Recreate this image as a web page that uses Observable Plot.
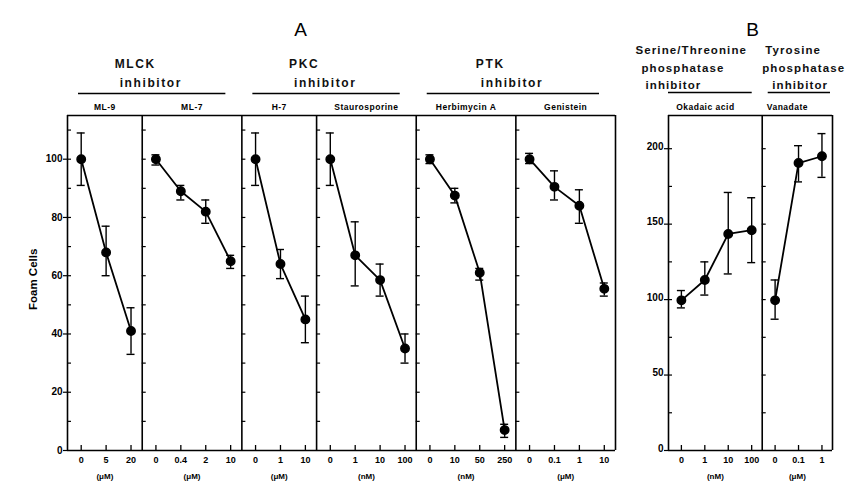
<!DOCTYPE html>
<html><head><meta charset="utf-8">
<script src="https://cdn.jsdelivr.net/npm/d3@7"></script>
<script src="https://cdn.jsdelivr.net/npm/@observablehq/plot@0.6"></script>
<style>
body{margin:0;background:#fff;}
#wrap{position:relative;width:850px;height:485px;overflow:hidden;}
#wrap svg{position:absolute;top:0;overflow:visible;background:transparent;}
</style></head><body><div id="wrap"></div>
<script>
// ---------- Part A data ----------
const panelsA = ["ML-9", "ML-7", "H-7", "Staurosporine", "Herbimycin A", "Genistein"];
const dosesA = [["0","5","20"], ["0","0.4","2","10"], ["0","1","10"], ["0","1","10","100"], ["0","10","50","250"], ["0","0.1","1","10"]];
const unitsA = ["(μM)", "(μM)", "(μM)", "(nM)", "(nM)", "(μM)"];
const meanA = [[100, 68, 41], [100, 89, 82, 65], [100, 64, 45], [100, 67, 58.5, 35], [100, 87.5, 61, 7], [100, 90.5, 84, 55.5]];
const lowA  = [[91, 60, 33], [98, 86, 78, 62.5], [91, 59, 37], [91, 56.5, 53, 30], [98.5, 85, 58.5, 4.5], [98.5, 86, 78, 53]];
const highA = [[109, 77, 49], [101.5, 91, 86, 67], [109, 69, 53], [109, 78.5, 64, 40], [101.5, 90, 62.5, 9], [102, 96, 89.5, 57.5]];
const groupsA = ["MLCK", "PKC", "PTK"];
const groupPanelsA = [[0, 1], [2, 3], [4, 5]];
const yTicksA = [0, 20, 40, 60, 80, 100];
const yMinorA = [10, 20, 30, 40, 50, 60, 70, 80, 90, 100, 110];
const yMaxA = 115;

// ---------- Part B data ----------
const panelsB = ["Okadaic acid", "Vanadate"];
const dosesB = [["0","1","10","100"], ["0","0.1","1"]];
const unitsB = ["(nM)", "(μM)"];
const meanB = [[99.5, 113, 143.5, 146], [99.5, 190.5, 195]];
const lowB  = [[94.5, 103, 117, 124.5], [87, 178, 181]];
const highB = [[106, 125, 171, 167.5], [113, 202, 210]];
const headersB = [["Serine/Threonine", "phosphatase", "inhibitor"], ["Tyrosine", "phosphatase", "inhibitor"]];
const yTicksB = [0, 50, 100, 150, 200];
const yMinorB = [25, 50, 75, 100, 125, 150, 175, 200];
const yMaxB = 222;

const FONT = "'Liberation Sans', Arial, sans-serif";
const HEAD_FILL = "#111111";
const SUB_FILL = "#010101";

function layout(panels, doses, units, mean, low, high) {
  const rows = [], info = [];
  let start = 0;
  panels.forEach((p, i) => {
    const n = doses[i].length;
    info.push({panel: p, unit: units[i], start, end: start + n, center: start + n / 2});
    doses[i].forEach((d, j) => {
      rows.push({panel: p, dose: d, x: start + 0.55 + j, mean: mean[i][j], lo: low[i][j], hi: high[i][j]});
    });
    start += n;
  });
  return {rows, info, total: start};
}

function commonMarks(L, kx, ky, yMax, yTicks, yMinor, opts) {
  const bounds = [0, ...L.info.map(d => d.end)];
  const minor = L.info.flatMap(p => yMinor.map(v => ({y: v, x1: p.start, x2: p.start + 4 / kx})));
  const cap = 4 / kx;
  return [
    Plot.ruleY([0, yMax], {stroke: "black", strokeWidth: 1.6}),
    Plot.ruleX(bounds, {stroke: "black", strokeWidth: 1.6}),
    Plot.ruleY(minor, {y: "y", x1: "x1", x2: "x2", stroke: "black", strokeWidth: 1.2}),
    Plot.ruleY(yTicks, {y: d => d, x1: 0, x2: -4 / kx, stroke: "black", strokeWidth: 1.2}),
    Plot.text(yTicks, {x: 0, y: d => d, text: d => String(d), textAnchor: "end", dx: -5, dy: opts.labDy,
      fontSize: 10, fontWeight: "bold", fontFamily: FONT}),
    Plot.ruleX(L.rows, {x: "x", y1: 0, y2: 5 / ky, stroke: "black", strokeWidth: 1.3}),
    Plot.text(L.rows, {x: "x", text: "dose", frameAnchor: "bottom", dy: 12, fontSize: 9, fontWeight: "bold", fontFamily: FONT}),
    Plot.text(L.info, {x: "center", text: "unit", frameAnchor: "bottom", dy: 28, fontSize: 8, fontWeight: "bold", fontFamily: FONT}),
    Plot.text(L.info, {x: "center", text: "panel", frameAnchor: "top", dy: -12, dx: opts.subDx,
      fontSize: 8.5, fontWeight: "bold", fontFamily: FONT, fill: SUB_FILL}),
    Plot.ruleX(L.rows, {x: "x", y1: "lo", y2: "hi", stroke: "black", strokeWidth: 1.4}),
    Plot.ruleY(L.rows, {y: "lo", x1: d => d.x - cap, x2: d => d.x + cap, stroke: "black", strokeWidth: 1.4}),
    Plot.ruleY(L.rows, {y: "hi", x1: d => d.x - cap, x2: d => d.x + cap, stroke: "black", strokeWidth: 1.4}),
    Plot.line(L.rows, {x: "x", y: "mean", z: "panel", stroke: "black", strokeWidth: 1.8}),
    Plot.dot(L.rows, {x: "x", y: "mean", r: 4.2, fill: "black", stroke: "black"})
  ];
}

function spacing(svg, headSpacing) {
  d3.select(svg).selectAll(`g[fill="${HEAD_FILL}"]`).attr("letter-spacing", headSpacing).attr("font-weight", "bold");
  d3.select(svg).selectAll(`g[fill="${SUB_FILL}"]`).attr("letter-spacing", "0.5px");
}

const headStyle = {fontSize: 12, fontWeight: "bold", fontFamily: FONT, fill: HEAD_FILL};
const headStyleB = {fontSize: 11.5, fontWeight: "bold", fontFamily: FONT, fill: HEAD_FILL};

// ---------- Plot A ----------
const LA = layout(panelsA, dosesA, unitsA, meanA, lowA, highA);
const wA = 630, mlA = 67, mrA = 15, mtA = 115, mbA = 35, hA = 485;
const kxA = (wA - mlA - mrA) / LA.total;
const kyA = (hA - mtA - mbA) / yMaxA;
const groupRows = groupsA.map((g, i) => {
  const a = LA.info[groupPanelsA[i][0]], b = LA.info[groupPanelsA[i][1]];
  return {name: g, start: a.start, end: b.end, center: (a.start + b.end) / 2};
});
const plotA = Plot.plot({
  width: wA, height: hA, marginLeft: mlA, marginRight: mrA, marginTop: mtA, marginBottom: mbA,
  x: {domain: [0, LA.total], axis: null},
  y: {domain: [0, yMaxA], axis: null},
  style: {background: "transparent", overflow: "visible"},
  marks: [
    ...commonMarks(LA, kxA, kyA, yMaxA, yTicksA, yMinorA, {subDx: 0, labDy: 0}),
    Plot.text(groupRows, {x: "center", text: "name", frameAnchor: "top", textAnchor: "start", dx: -40, dy: -56, ...headStyle}),
    Plot.text(groupRows, {x: "center", text: () => "inhibitor", frameAnchor: "top", textAnchor: "start", dx: -35, dy: -37, ...headStyle}),
    Plot.ruleY(groupRows, {y: () => yMaxA, x1: d => d.start + 11 / kxA, x2: d => d.end - 16 / kxA, dy: -22, stroke: "black", strokeWidth: 1.3}),
    Plot.text(["A"], {text: d => d, frameAnchor: "top", dx: -41, dy: -93, fontSize: 19, fontFamily: FONT}),
    Plot.text(["Foam Cells"], {text: d => d, frameAnchor: "left", rotate: -90, dx: -34, dy: 27, fontSize: 11.5, fontWeight: "bold", fontFamily: FONT})
  ]
});
plotA.style.left = "0px";
spacing(plotA, "1.6px");
document.getElementById("wrap").appendChild(plotA);

// ---------- Plot B ----------
const LB = layout(panelsB, dosesB, unitsB, meanB, lowB, highB);
const wB = 230, mlB = 48, mrB = 18, mtB = 115, mbB = 35, hB = 485;
const kxB = (wB - mlB - mrB) / LB.total;
const kyB = (hB - mtB - mbB) / yMaxB;
const okad = LB.info[0], vana = LB.info[1];
const plotB = Plot.plot({
  width: wB, height: hB, marginLeft: mlB, marginRight: mrB, marginTop: mtB, marginBottom: mbB,
  x: {domain: [0, LB.total], axis: null},
  y: {domain: [0, yMaxB], axis: null},
  style: {background: "transparent", overflow: "visible"},
  marks: [
    ...commonMarks(LB, kxB, kyB, yMaxB, yTicksB, yMinorB, {subDx: -10, labDy: -2}),
    // left header block (Serine/Threonine)
    Plot.text([headersB[0][0]], {x: () => okad.start, text: d => d, frameAnchor: "top", textAnchor: "start", dx: -33, dy: -70, ...headStyleB}),
    Plot.text([headersB[0][1]], {x: () => okad.start, text: d => d, frameAnchor: "top", textAnchor: "start", dx: -27, dy: -52, ...headStyleB}),
    Plot.text([headersB[0][2]], {x: () => okad.start, text: d => d, frameAnchor: "top", textAnchor: "start", dx: -23, dy: -35, ...headStyleB}),
    // right header block (Tyrosine)
    Plot.text([headersB[1][0]], {x: () => vana.start, text: d => d, frameAnchor: "top", textAnchor: "start", dx: 3, dy: -70, ...headStyleB}),
    Plot.text([headersB[1][1]], {x: () => vana.start, text: d => d, frameAnchor: "top", textAnchor: "start", dx: 0, dy: -52, ...headStyleB}),
    Plot.text([headersB[1][2]], {x: () => vana.start, text: d => d, frameAnchor: "top", textAnchor: "start", dx: 10, dy: -35, ...headStyleB}),
    Plot.ruleY([okad], {y: () => yMaxB, x1: d => d.start, x2: d => d.end - 10 / kxB, dy: -23, stroke: "black", strokeWidth: 1.3}),
    Plot.ruleY([vana], {y: () => yMaxB, x1: d => d.start + 6 / kxB, x2: d => d.end - 2 / kxB, dy: -23, stroke: "black", strokeWidth: 1.3}),
    Plot.text(["B"], {text: d => d, frameAnchor: "top", dx: 2, dy: -93, fontSize: 19, fontFamily: FONT})
  ]
});
plotB.style.left = "620px";
spacing(plotB, "1.1px");
document.getElementById("wrap").appendChild(plotB);
</script></body></html>
